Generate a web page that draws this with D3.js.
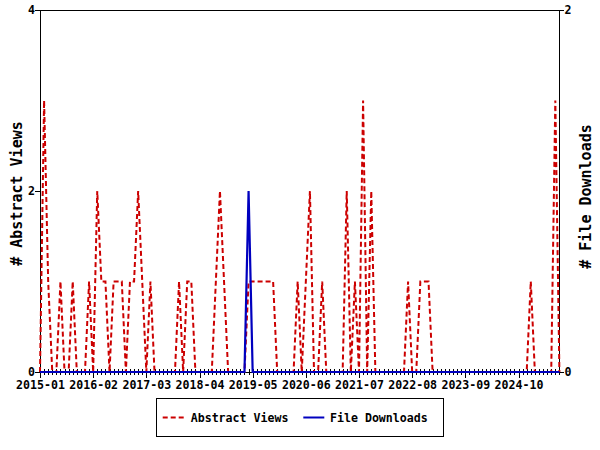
<!DOCTYPE html>
<html>
<head>
<meta charset="utf-8">
<script src="https://cdn.jsdelivr.net/npm/d3@7/dist/d3.min.js"></script>
<style>
  html, body { margin: 0; padding: 0; background: #ffffff; }
  svg { display: block; }
</style>
</head>
<body>
<script>
// ---- data (monthly, 2015-01 .. 2025-08) ----
const firstMonth = "2015-01";
const lastMonth = "2025-08";

const abstractViews = [
  0, 3, 1, 0, 0, 1, 0, 0, 1, 0, 0, 0, 1, 0, 2, 1,   // 2015-01 .. 2016-04
  1, 0, 1, 1, 1, 0, 1, 1, 2, 1, 0, 1, 0, 0, 0, 0,   // 2016-05 .. 2017-08
  0, 0, 1, 0, 1, 1, 0, 0, 0, 0, 0, 1, 2, 1, 0, 0,   // 2017-09 .. 2018-12
  0, 0, 0, 1, 1, 1, 1, 1, 1, 1, 0, 0, 0, 0, 0, 1,   // 2019-01 .. 2020-04
  0, 1, 2, 0, 0, 1, 0, 0, 0, 0, 0, 2, 0, 1, 0, 3,   // 2020-05 .. 2021-08
  0, 2, 0, 0, 0, 0, 0, 0, 0, 0, 1, 0, 0, 1, 1, 1,   // 2021-09 .. 2022-12
  0, 0, 0, 0, 0, 0, 0, 0, 0, 0, 0, 0, 0, 0, 0, 0,   // 2023-01 .. 2024-04
  0, 0, 0, 0, 0, 0, 0, 0, 1, 0, 0, 0, 0, 0, 3, 0    // 2024-05 .. 2025-08
];

const fileDownloads = [
  0, 0, 0, 0, 0, 0, 0, 0, 0, 0, 0, 0, 0, 0, 0, 0,
  0, 0, 0, 0, 0, 0, 0, 0, 0, 0, 0, 0, 0, 0, 0, 0,
  0, 0, 0, 0, 0, 0, 0, 0, 0, 0, 0, 0, 0, 0, 0, 0,
  0, 0, 0, 1, 0, 0, 0, 0, 0, 0, 0, 0, 0, 0, 0, 0,
  0, 0, 0, 0, 0, 0, 0, 0, 0, 0, 0, 0, 0, 0, 0, 0,
  0, 0, 0, 0, 0, 0, 0, 0, 0, 0, 0, 0, 0, 0, 0, 0,
  0, 0, 0, 0, 0, 0, 0, 0, 0, 0, 0, 0, 0, 0, 0, 0,
  0, 0, 0, 0, 0, 0, 0, 0, 0, 0, 0, 0, 0, 0, 0, 0
];

const xTickLabels = ["2015-01", "2016-02", "2017-03", "2018-04", "2019-05",
                     "2020-06", "2021-07", "2022-08", "2023-09", "2024-10"];
const leftTicks = [0, 2, 4];
const rightTicks = [0, 2];
const seriesNames = ["Abstract Views", "File Downloads"];
const leftTitle = "# Abstract Views";
const rightTitle = "# File Downloads";

// ---- layout ----
const W = 600, H = 450;
const plot = { left: 40, right: 559.4, top: 10, bottom: 372 };
const RED = "#cc0000", BLUE = "#0000bf";
const FONT = "'DejaVu Sans Mono', 'Liberation Mono', monospace";

const parseMonth = d3.utcParse("%Y-%m");
const m0 = parseMonth(firstMonth);
const monthIndex = s => d3.utcMonth.count(m0, parseMonth(s));
const nMonths = monthIndex(lastMonth);

const x = d3.scaleLinear().domain([0, nMonths]).range([plot.left, plot.right]);
const yL = d3.scaleLinear().domain([0, 4]).range([plot.bottom, plot.top]);
const yR = d3.scaleLinear().domain([0, 2]).range([plot.bottom, plot.top]);

const svg = d3.select("body").append("svg")
  .attr("width", W).attr("height", H)
  .style("background", "#fff");

// frame
const frame = svg.append("g").attr("shape-rendering", "crispEdges").attr("stroke", "#000").attr("stroke-width", 1);
frame.append("line").attr("x1", plot.left).attr("x2", plot.right).attr("y1", plot.top + 0.5).attr("y2", plot.top + 0.5);
frame.append("line").attr("x1", plot.left).attr("x2", plot.right).attr("y1", plot.bottom).attr("y2", plot.bottom);

// minor (monthly) ticks
const minorAxis = d3.axisBottom(x).tickValues(d3.range(0, nMonths + 1)).tickSize(6).tickFormat("");
svg.append("g").attr("transform", `translate(0,${plot.bottom - 3})`)
  .attr("shape-rendering", "crispEdges")
  .call(minorAxis)
  .call(g => g.select(".domain").remove())
  .call(g => g.selectAll("line").attr("stroke", "#000"));

// major ticks with labels
const majorIdx = xTickLabels.map(monthIndex);
const majorAxis = d3.axisBottom(x).tickValues(majorIdx).tickSize(9).tickPadding(3)
  .tickFormat((d, i) => xTickLabels[i]);
svg.append("g").attr("transform", `translate(0,${plot.bottom - 3})`)
  .attr("shape-rendering", "crispEdges")
  .call(majorAxis)
  .call(g => g.select(".domain").remove())
  .call(g => g.selectAll("line").attr("stroke", "#000"))
  .call(g => g.selectAll("text")
      .attr("y", null).attr("dy", null)
      .attr("transform", `translate(0,${389.3 - (plot.bottom - 3)})`)
      .attr("fill", "#000")
      .style("font-family", FONT).style("font-weight", "bold").style("font-size", "11.6px"));

// left axis
svg.append("g").attr("transform", `translate(${plot.left},0)`)
  .attr("shape-rendering", "crispEdges")
  .call(d3.axisLeft(yL).tickValues(leftTicks).tickSize(5).tickPadding(0).tickFormat(d3.format("d")))
  .call(g => g.select(".domain").attr("stroke", "#000").attr("d", `M0.5,${plot.top}V${plot.bottom}`))
  .call(g => g.selectAll("line").attr("stroke", "#000"))
  .call(g => g.selectAll("text").attr("fill", "#000")
      .style("font-family", FONT).style("font-weight", "bold").style("font-size", "11.6px"));

// right axis
svg.append("g").attr("transform", `translate(${plot.right},0)`)
  .attr("shape-rendering", "crispEdges")
  .call(d3.axisRight(yR).tickValues(rightTicks).tickSize(5).tickPadding(0).tickFormat(d3.format("d")))
  .call(g => g.select(".domain").attr("stroke", "#000").attr("d", `M0,${plot.top}V${plot.bottom}`))
  .call(g => g.selectAll("line").attr("stroke", "#000"))
  .call(g => g.selectAll("text").attr("fill", "#000")
      .style("font-family", FONT).style("font-weight", "bold").style("font-size", "11.6px"));

// axis titles
svg.append("text")
  .attr("transform", "translate(16.5,193.5) rotate(-90)")
  .attr("text-anchor", "middle").attr("dominant-baseline", "central")
  .style("font-family", FONT).style("font-weight", "bold").style("font-size", "15px")
  .attr("fill", "#000").text(leftTitle);
svg.append("text")
  .attr("transform", "translate(586,196.5) rotate(-90)")
  .attr("text-anchor", "middle").attr("dominant-baseline", "central")
  .style("font-family", FONT).style("font-weight", "bold").style("font-size", "15px")
  .attr("fill", "#000").text(rightTitle);

// series lines
const lineL = d3.line().x((d, i) => x(i)).y(d => yL(d));
const lineR = d3.line().x((d, i) => x(i)).y(d => yR(d));

svg.append("path").datum(abstractViews)
  .attr("d", lineL).attr("fill", "none")
  .attr("stroke", RED).attr("stroke-width", 2)
  .attr("stroke-dasharray", "5,3");

svg.append("path").datum(fileDownloads)
  .attr("d", lineR).attr("fill", "none")
  .attr("stroke", BLUE).attr("stroke-width", 2.2);

// legend
const leg = svg.append("g");
leg.append("rect").attr("x", 156.5).attr("y", 398.5).attr("width", 287).attr("height", 38)
  .attr("fill", "#fff").attr("stroke", "#000").attr("shape-rendering", "crispEdges");
const legItems = [
  { name: seriesNames[0], color: RED, dash: "5,3", x0: 162.7, tx: 190.7 },
  { name: seriesNames[1], color: BLUE, dash: null, x0: 303.3, tx: 330 }
];
legItems.forEach(it => {
  leg.append("line").attr("x1", it.x0).attr("x2", it.x0 + 21).attr("y1", 417.5).attr("y2", 417.5)
    .attr("stroke", it.color).attr("stroke-width", 2)
    .attr("stroke-dasharray", it.dash);
  leg.append("text").attr("x", it.tx).attr("y", 422)
    .style("font-family", FONT).style("font-weight", "bold").style("font-size", "11.6px")
    .attr("fill", "#000").text(it.name);
});
</script>
</body>
</html>
